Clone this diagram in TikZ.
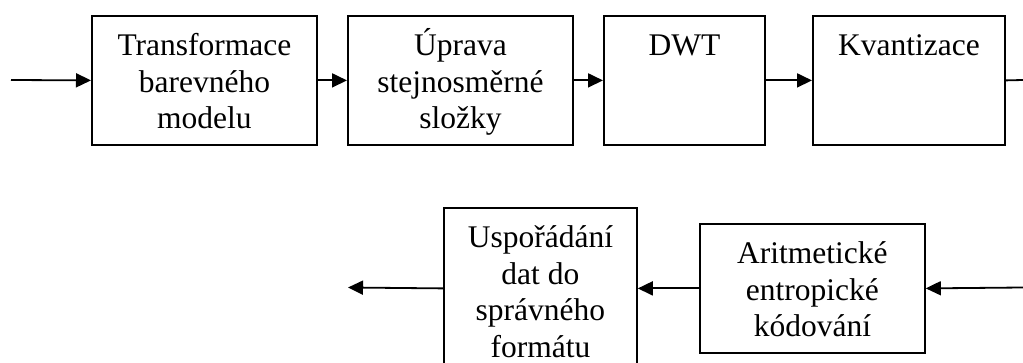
\documentclass[tikz,border=0pt]{standalone}
\usepackage{fontspec}
\setmainfont{Liberation Serif}
\usetikzlibrary{arrows.meta, positioning}

%% box text: height, width, lines (top aligned)
\newcommand{\blocktext}[3]{\parbox[c][#1][t]{#2}{\centering\rule{0pt}{40pt}#3}}

\begin{document}
\begin{tikzpicture}[x=1pt, y=-1pt,
    block/.style={draw, line width=1.8pt, inner sep=0pt, anchor=north west,
                  font=\fontsize{31.5}{36.5}\selectfont},
    flow/.style={line width=1.8pt, -{Triangle[length=15pt, width=14pt]}},
    plain/.style={line width=1.8pt}]
  \clip (0,0) rectangle (1023,363);

  %% --- Top row ---
  \node[block] (barvy)  at (91,15)  {\blocktext{129pt}{225pt}{Transformace\\barevného\\modelu}};
  \node[block] (dc)     at (347,15) {\blocktext{129pt}{225pt}{Úprava\\stejnosměrné\\složky}};
  \node[block] (dwt)    at (603,15) {\blocktext{129pt}{161pt}{DWT}};
  \node[block] (kvant)  at (812,15) {\blocktext{129pt}{192pt}{Kvantizace}};
  \coordinate (vstup) at (11,80);
  \coordinate (konec) at (1023,80);

  \draw[flow] (vstup) -- (barvy.west);
  \draw[flow] (barvy.east) -- (dc.west);
  \draw[flow] (dc.east) -- (dwt.west);
  \draw[flow] (dwt.east) -- (kvant.west);
  \draw[plain] (kvant.east) -- (konec);

  %% --- Bottom row (right to left) ---
  \node[block] (entrop) at (699,223) {\blocktext{129pt}{225pt}{Aritmetické\\entropické\\kódování}};
  \node[block] (format) at (443,207) {\blocktext{170pt}{193pt}{Uspořádání\\dat do\\správného\\formátu}};
  \coordinate (zacatek) at (1023,287.5);
  \coordinate (vystup) at (348,287.5);

  \draw[flow] (zacatek) -- (entrop.east);
  \draw[flow] (entrop.west) -- (entrop.west -| format.east);
  \draw[flow] (entrop.west -| format.west) -- (vystup);
\end{tikzpicture}
\end{document}
